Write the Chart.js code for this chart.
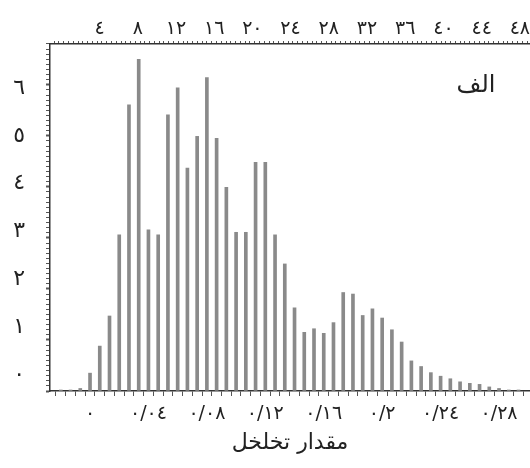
<!DOCTYPE html>
<html>
<head>
<meta charset="utf-8">
<script src="https://cdn.jsdelivr.net/npm/chart.js@4.4.1/dist/chart.umd.min.js"></script>
<style>
  html, body { margin: 0; padding: 0; background: #fff; }
  #wrap { width: 530px; height: 468px; }
</style>
</head>
<body>
<div id="wrap"><canvas id="poreChart" width="530" height="468"></canvas></div>
<script>
// histogram bins: bin k sits at porosity k * BIN_WIDTH
const BIN_WIDTH = 1 / 150;
const BIN_INDEX = [-3, -2, -1, 0, 1, 2, 3, 4, 5, 6, 7, 8, 9, 10, 11, 12, 13, 14, 15, 16, 17, 18, 19, 20,
  21, 22, 23, 24, 25, 26, 27, 28, 29, 30, 31, 32, 33, 34, 35, 36, 37, 38, 39, 40, 41, 42, 43, 44];
const FREQ = [0.02, 0.02, 0.05, 0.35, 0.88, 1.47, 3.06, 5.61, 6.5, 3.16, 3.06, 5.41, 5.94, 4.37, 4.99, 6.14,
  4.95, 3.99, 3.11, 3.11, 4.48, 4.48, 3.06, 2.49, 1.63, 1.15, 1.22, 1.13, 1.34, 1.93, 1.9, 1.48, 1.61,
  1.43, 1.2, 0.96, 0.59, 0.48, 0.36, 0.29, 0.24, 0.18, 0.15, 0.13, 0.08, 0.05, 0.02, 0.02];

const BOTTOM_TICKS = [0, 0.04, 0.08, 0.12, 0.16, 0.2, 0.24, 0.28];
const BOTTOM_LABELS = ['٠', '٠/٠٤', '٠/٠٨', '٠/١٢', '٠/١٦', '٠/٢', '٠/٢٤', '٠/٢٨'];
const TOP_TICKS = [4, 8, 12, 16, 20, 24, 28, 32, 36, 40, 44, 48];
const TOP_LABELS = ['٤', '٨', '١٢', '١٦', '٢٠', '٢٤', '٢٨', '٣٢', '٣٦', '٤٠', '٤٤', '٤٨'];
const Y_TICKS = [0, 1, 2, 3, 4, 5, 6];
const Y_LABELS = ['٠', '١', '٢', '٣', '٤', '٥', '٦'];

const X_TITLE = 'مقدار تخلخل';
const PANEL_LABEL = 'الف';

const FONT = "'DejaVu Sans', sans-serif";
const INK = '#222';
const AXIS = '#333';

Chart.defaults.font.family = FONT;

function stepTicks(from, to, step) {
  const out = [];
  for (let i = 0; from + i * step <= to + 1e-9; i++) {
    out.push({ value: from + i * step });
  }
  return out;
}

function matchLabel(value, ticks, labels) {
  const i = ticks.findIndex((t) => Math.abs(t - value) < 1e-6);
  return i >= 0 ? labels[i] : '';
}

const barData = BIN_INDEX.map((k, i) => ({ x: k * BIN_WIDTH, y: FREQ[i] }));

// panel letter in the upper right corner
const panelLabel = {
  id: 'panelLabel',
  afterDraw(chart) {
    const { ctx, chartArea } = chart;
    ctx.save();
    ctx.font = '24px ' + FONT;
    ctx.fillStyle = INK;
    ctx.textAlign = 'center';
    ctx.textBaseline = 'middle';
    ctx.fillText(PANEL_LABEL, chartArea.right - 54, chartArea.top + 42);
    ctx.restore();
  },
};

const ctx = document.getElementById('poreChart').getContext('2d');

new Chart(ctx, {
  type: 'bar',
  data: {
    datasets: [
      {
        data: barData,
        xAxisID: 'x',
        yAxisID: 'y',
        backgroundColor: '#8a8a8a',
        borderWidth: 0,
        barThickness: 3,
        grouped: false,
      },
    ],
  },
  options: {
    responsive: false,
    animation: false,
    devicePixelRatio: 1,
    layout: { padding: 0 },
    plugins: {
      legend: { display: false },
      tooltip: { enabled: false },
    },
    scales: {
      x: {
        type: 'linear',
        position: 'bottom',
        min: -0.0274,
        max: 0.3012,
        offset: false,
        grid: { drawOnChartArea: false, tickLength: 5, tickColor: '#555', tickWidth: 1 },
        border: { display: true, color: AXIS, width: 1.5 },
        ticks: {
          autoSkip: false,
          maxRotation: 0,
          padding: 7,
          color: INK,
          font: { size: 19 },
          callback: (v) => matchLabel(v, BOTTOM_TICKS, BOTTOM_LABELS),
        },
        afterBuildTicks: (s) => {
          s.ticks = stepTicks(-4 * BIN_WIDTH, 45 * BIN_WIDTH, BIN_WIDTH);
        },
        title: {
          display: true,
          text: X_TITLE,
          color: INK,
          font: { size: 22 },
          padding: { top: 0, bottom: 12 },
        },
        afterFit: (s) => {
          s.height = 77;
          s.paddingLeft = 0;
          s.paddingRight = 0;
        },
      },
      xTop: {
        type: 'linear',
        position: 'top',
        min: -0.93,
        max: 48.81,
        grid: { drawOnChartArea: false, tickLength: 3, tickColor: '#555', tickWidth: 1 },
        border: { display: true, color: AXIS, width: 1.5 },
        ticks: {
          autoSkip: false,
          maxRotation: 0,
          padding: 1,
          color: INK,
          font: { size: 19 },
          callback: (v) => matchLabel(v, TOP_TICKS, TOP_LABELS),
        },
        afterBuildTicks: (s) => {
          s.ticks = stepTicks(-0.5, 48.5, 0.5);
        },
        afterFit: (s) => {
          s.height = 44;
          s.paddingLeft = 0;
          s.paddingRight = 0;
        },
      },
      y: {
        type: 'linear',
        position: 'left',
        weight: 0,
        min: 0,
        max: 6.8,
        grid: {
          drawOnChartArea: false,
          tickLength: 4,
          tickColor: '#555',
          tickWidth: (c) => (c.tick && Math.abs(c.tick.value - Math.round(c.tick.value)) < 1e-6 ? 2 : 1),
        },
        border: { display: true, color: AXIS, width: 1.5 },
        ticks: { display: false },
        afterBuildTicks: (s) => {
          s.ticks = stepTicks(0, 6.8, 0.1);
        },
        afterFit: (s) => {
          s.width = 0;
          s.paddingTop = 0;
          s.paddingBottom = 0;
        },
      },
      // the printed y numbers sit a little off the tick marks in the figure
      yLab: {
        type: 'linear',
        position: 'left',
        weight: 1,
        min: -0.335,
        max: 6.92,
        grid: { display: false, drawTicks: false },
        border: { display: false },
        ticks: {
          padding: 25,
          color: INK,
          font: { size: 22 },
          callback: (v, i) => Y_LABELS[i],
        },
        afterBuildTicks: (s) => {
          s.ticks = Y_TICKS.map((v) => ({ value: v }));
        },
        afterFit: (s) => {
          s.width = 50;
          s.paddingTop = 0;
          s.paddingBottom = 0;
        },
      },
    },
  },
  plugins: [panelLabel],
});
</script>
</body>
</html>
